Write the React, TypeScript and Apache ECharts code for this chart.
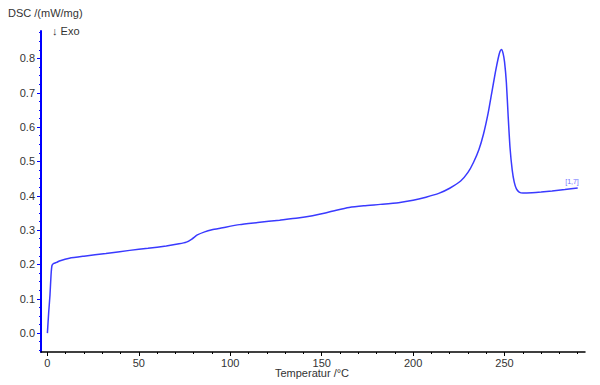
import React, { useEffect, useRef } from "react";
import * as echarts from "echarts";

const temperature: number[] = [
  0, 0.7, 1.4, 2.0, 2.5, 3.5, 5, 7, 12, 20, 32, 45, 55, 65, 72, 76, 79, 82, 86, 90, 95, 105, 115, 127, 137,
  145, 152, 158, 165, 173, 182, 192, 200, 207, 214, 220, 226, 230, 233, 236, 238.5, 241, 243, 245, 246.5,
  247.5, 248.3, 249.2, 250, 251, 252, 253, 254.2, 255.3, 256.5, 258, 260, 265, 270, 276, 283, 290,
];
const dsc: number[] = [
  0.0, 0.06, 0.11, 0.17, 0.197, 0.203, 0.206, 0.211, 0.218, 0.224, 0.232, 0.241, 0.247, 0.254, 0.26, 0.265,
  0.274, 0.286, 0.295, 0.301, 0.306, 0.316, 0.322, 0.329, 0.335, 0.342, 0.35, 0.358, 0.366, 0.371, 0.375,
  0.38, 0.387, 0.396, 0.407, 0.422, 0.443, 0.468, 0.497, 0.535, 0.58, 0.64, 0.7, 0.76, 0.8, 0.82, 0.826,
  0.815, 0.79, 0.73, 0.63, 0.54, 0.475, 0.44, 0.42, 0.411, 0.408, 0.409, 0.411, 0.414, 0.418, 0.423,
];

const xMajorTicks: number[] = [0, 50, 100, 150, 200, 250];
const xMinorTicks: number[] = [
  10, 20, 30, 40, 60, 70, 80, 90, 110, 120, 130, 140, 160, 170, 180, 190, 210, 220, 230, 240, 260, 270, 280, 290,
];
const yMajorTicks: number[] = [0, 0.1, 0.2, 0.3, 0.4, 0.5, 0.6, 0.7, 0.8];
const yMinorTicks: number[] = [
  -0.05, -0.025, 0.025, 0.05, 0.075, 0.125, 0.15, 0.175, 0.225, 0.25, 0.275, 0.325, 0.35, 0.375, 0.425, 0.45,
  0.475, 0.525, 0.55, 0.575, 0.625, 0.65, 0.675, 0.725, 0.75, 0.775, 0.825, 0.85, 0.875,
];

const FONT = "Liberation Sans, Arial, sans-serif";
const LABEL = "#333";

export default function App() {
  const ref = useRef<HTMLDivElement>(null);
  useEffect(() => {
    if (!ref.current) return;
    const chart = echarts.init(ref.current, null, { renderer: "svg" });
    const xMin = -3.5, xMax = 294, yMin = -0.055, yMax = 0.88;
    chart.setOption({
      animation: false,
      grid: { left: 41, right: 15, top: 31, bottom: 33, containLabel: false },
      xAxis: [
        {
          type: "value", min: xMin, max: xMax,
          axisLine: { show: true, onZero: false, lineStyle: { color: "#000", width: 1.5 } },
          axisTick: { show: true, customValues: xMajorTicks, length: 4, lineStyle: { color: "#000" } },
          axisLabel: { customValues: xMajorTicks, color: LABEL, fontSize: 11, fontFamily: FONT, margin: 5 },
          splitLine: { show: false },
        },
        {
          type: "value", min: xMin, max: xMax, position: "bottom",
          axisLine: { show: false, onZero: false },
          axisTick: { show: true, customValues: xMinorTicks, length: 2, lineStyle: { color: "#000" } },
          axisLabel: { show: false },
          splitLine: { show: false },
        },
      ],
      yAxis: [
        {
          type: "value", min: yMin, max: yMax,
          axisLine: { show: true, onZero: false, lineStyle: { color: "#0000ff", width: 2 } },
          axisTick: { show: true, customValues: yMajorTicks, length: 4, lineStyle: { color: "#0000ff" } },
          axisLabel: {
            customValues: yMajorTicks, color: LABEL, fontSize: 11, fontFamily: FONT, margin: 6,
            formatter: (v: number) => v.toFixed(1),
          },
          splitLine: { show: false },
        },
        {
          type: "value", min: yMin, max: yMax, position: "left",
          axisLine: { show: false, onZero: false },
          axisTick: { show: true, customValues: yMinorTicks, length: 2, lineStyle: { color: "#0000ff" } },
          axisLabel: { show: false },
          splitLine: { show: false },
        },
      ],
      graphic: [
        { type: "text", left: 8, top: 7, style: { text: "DSC /(mW/mg)", fill: "#333", font: `11px ${FONT}` } },
        { type: "text", left: 52, top: 25, style: { text: "↓ Exo", fill: "#333", font: `11px ${FONT}` } },
        {
          type: "text", x: 312, y: 373,
          style: { text: "Temperatur /°C", fill: "#333", font: `11px ${FONT}`, align: "center", verticalAlign: "middle" },
        },
        {
          type: "text", x: 572, y: 181,
          style: { text: "[1,7]", fill: "#7070ff", font: `7px ${FONT}`, align: "center", verticalAlign: "middle" },
        },
      ],
      series: [
        {
          type: "line",
          data: temperature.map((t, i) => [t, dsc[i]]),
          showSymbol: false,
          smooth: 0.2,
          lineStyle: { color: "#3a3aff", width: 1.5 },
          silent: true,
        },
      ],
    });
    return () => chart.dispose();
  }, []);
  return <div ref={ref} style={{ width: 600, height: 385, position: "absolute", left: 0, top: 0 }} />;
}
